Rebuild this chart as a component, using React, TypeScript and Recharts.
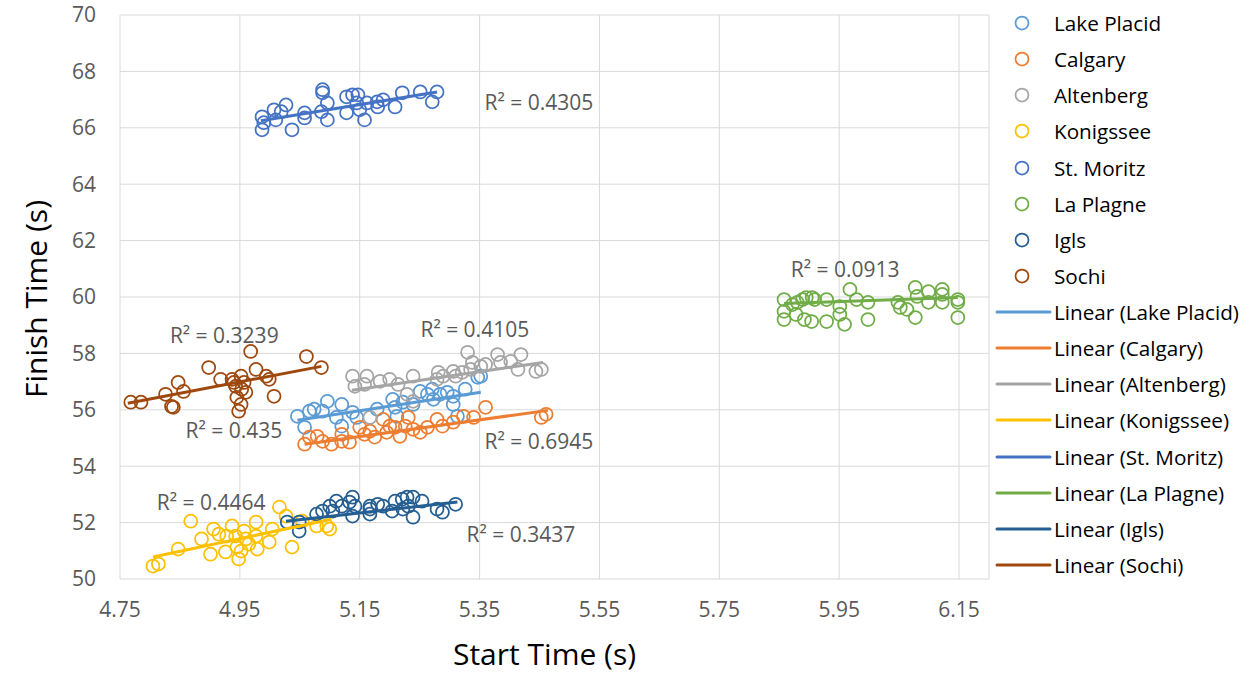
import { ScatterChart, Scatter, XAxis, YAxis, CartesianGrid, ReferenceDot } from "recharts";

const FONT = '"Open Sans", "Noto Sans", sans-serif';

const seriesNames = ["Lake Placid", "Calgary", "Altenberg", "Konigssee", "St. Moritz", "La Plagne", "Igls", "Sochi"];
const seriesColors = ["#5B9BD5", "#ED7D31", "#A5A5A5", "#FFC000", "#4472C4", "#70AD47", "#255E91", "#9E480E"];

const xTicks = [4.75, 4.95, 5.15, 5.35, 5.55, 5.75, 5.95, 6.15];
const yTicks = [50, 52, 54, 56, 58, 60, 62, 64, 66, 68, 70];

// start / finish times per track
const lakePlacidStart = [5.046, 5.058, 5.066, 5.074, 5.088, 5.096, 5.111, 5.12, 5.138, 5.145, 5.12, 5.179, 5.205, 5.212, 5.209, 5.222, 5.239, 5.251, 5.263, 5.271, 5.273, 5.284, 5.296, 5.306, 5.306, 5.313, 5.326, 5.347, 5.352];
const lakePlacidFinish = [55.77, 55.38, 55.95, 56.02, 55.95, 56.3, 55.73, 56.19, 55.91, 55.73, 55.42, 56.02, 56.37, 55.77, 56.09, 56.27, 56.19, 56.65, 56.55, 56.73, 56.37, 56.55, 56.62, 56.48, 56.19, 55.77, 56.73, 57.15, 57.19];

const calgaryStart = [5.058, 5.066, 5.079, 5.088, 5.103, 5.12, 5.12, 5.133, 5.15, 5.158, 5.167, 5.175, 5.189, 5.195, 5.2, 5.209, 5.217, 5.226, 5.231, 5.239, 5.251, 5.263, 5.279, 5.288, 5.306, 5.323, 5.34, 5.36, 5.453, 5.461];
const calgaryFinish = [54.78, 55.03, 55.06, 54.88, 54.78, 55.13, 54.88, 54.85, 55.38, 55.13, 55.24, 55.03, 55.66, 55.2, 55.42, 55.38, 55.06, 55.42, 55.73, 55.31, 55.2, 55.38, 55.66, 55.42, 55.56, 55.77, 55.73, 56.09, 55.73, 55.84];

const altenbergStart = [5.138, 5.142, 5.162, 5.158, 5.167, 5.184, 5.2, 5.214, 5.239, 5.239, 5.281, 5.279, 5.289, 5.306, 5.31, 5.321, 5.33, 5.338, 5.335, 5.352, 5.36, 5.38, 5.385, 5.402, 5.414, 5.419, 5.444, 5.453, 5.229];
const altenbergFinish = [57.19, 56.83, 57.19, 56.9, 55.73, 57.01, 57.08, 56.9, 57.19, 56.3, 57.33, 57.08, 57.19, 57.36, 57.19, 57.33, 58.04, 57.68, 57.43, 57.54, 57.61, 57.96, 57.68, 57.72, 57.43, 57.96, 57.36, 57.43, 56.55];

const konigsseeStart = [4.805, 4.814, 4.847, 4.868, 4.886, 4.901, 4.906, 4.915, 4.926, 4.928, 4.937, 4.943, 4.945, 4.948, 4.952, 4.957, 4.96, 4.965, 4.977, 4.977, 4.979, 4.999, 5.004, 5.016, 5.027, 5.037, 5.054, 5.078, 5.095, 5.1];
const konigsseeFinish = [50.46, 50.53, 51.06, 52.05, 51.42, 50.88, 51.77, 51.59, 50.96, 51.52, 51.88, 51.52, 51.13, 50.71, 50.99, 51.7, 51.42, 51.24, 52.02, 51.52, 51.06, 51.31, 51.77, 52.55, 52.23, 51.13, 52.05, 51.88, 51.88, 51.77];

const stMoritzStart = [4.987, 4.987, 4.99, 5.007, 5.01, 5.027, 5.019, 5.037, 5.058, 5.058, 5.088, 5.088, 5.096, 5.096, 5.086, 5.128, 5.128, 5.138, 5.147, 5.145, 5.15, 5.158, 5.162, 5.179, 5.18, 5.189, 5.209, 5.221, 5.251, 5.271, 5.279];
const stMoritzFinish = [66.39, 65.93, 66.18, 66.64, 66.28, 66.81, 66.57, 65.93, 66.53, 66.35, 67.35, 67.24, 66.88, 66.28, 66.57, 67.1, 66.53, 67.17, 67.17, 66.88, 66.64, 66.28, 66.88, 66.92, 66.74, 66.99, 66.74, 67.24, 67.27, 66.92, 67.27];

const laPlagneStart = [5.858, 5.858, 5.858, 5.872, 5.88, 5.889, 5.895, 5.905, 5.909, 5.878, 5.892, 5.904, 5.929, 5.929, 5.951, 5.951, 5.959, 5.968, 5.979, 5.998, 5.998, 6.048, 6.052, 6.063, 6.077, 6.08, 6.077, 6.099, 6.099, 6.122, 6.122, 6.122, 6.148, 6.148, 6.148];
const laPlagneFinish = [59.91, 59.49, 59.2, 59.73, 59.81, 59.91, 59.98, 59.98, 59.91, 59.38, 59.2, 59.13, 59.91, 59.13, 59.66, 59.38, 59.03, 60.27, 59.91, 59.81, 59.2, 59.81, 59.63, 59.56, 60.34, 60.02, 59.27, 60.19, 59.81, 60.27, 60.09, 59.81, 59.91, 59.81, 59.27];

const iglsStart = [5.029, 5.049, 5.049, 5.078, 5.088, 5.1, 5.105, 5.111, 5.12, 5.133, 5.138, 5.138, 5.142, 5.167, 5.167, 5.167, 5.18, 5.189, 5.204, 5.209, 5.221, 5.222, 5.229, 5.231, 5.239, 5.239, 5.254, 5.279, 5.288, 5.31];
const iglsFinish = [52.02, 52.02, 51.7, 52.3, 52.41, 52.58, 52.41, 52.76, 52.58, 52.73, 52.9, 52.23, 52.58, 52.58, 52.3, 52.48, 52.65, 52.58, 52.41, 52.76, 52.83, 52.48, 52.9, 52.58, 52.9, 52.19, 52.76, 52.48, 52.37, 52.65];

const sochiStart = [4.768, 4.785, 4.826, 4.836, 4.839, 4.847, 4.856, 4.898, 4.918, 4.937, 4.94, 4.943, 4.945, 4.948, 4.952, 4.952, 4.953, 4.957, 4.96, 4.968, 4.977, 4.994, 4.999, 5.007, 5.061, 5.086];
const sochiFinish = [56.27, 56.27, 56.55, 56.12, 56.09, 56.97, 56.65, 57.5, 57.08, 57.08, 56.97, 56.83, 56.44, 55.95, 57.19, 56.19, 56.73, 56.97, 56.62, 58.07, 57.43, 57.19, 57.08, 56.48, 57.89, 57.5];

// linear trendline ends: [start, end]
const trendStart = [[5.046, 5.352], [5.058, 5.464], [5.137, 5.456], [4.805, 5.103], [4.985, 5.279], [5.858, 6.148], [5.027, 5.313], [4.763, 5.086]];
const trendFinish = [[55.63, 56.62], [54.78, 55.98], [56.69, 57.68], [50.78, 52.12], [66.25, 67.27], [59.77, 59.98], [52.05, 52.73], [56.23, 57.54]];

const r2Values = ["0.435", "0.6945", "0.4105", "0.4464", "0.4305", "0.0913", "0.3437", "0.3239"];
// where each R² label sits (chart units)
const r2Anchors = [[4.94, 55.25], [5.449, 54.86], [5.342, 58.83], [4.902, 52.7], [5.449, 66.91], [5.96, 60.99], [5.419, 51.56], [4.924, 58.65]];

const startArrays = [lakePlacidStart, calgaryStart, altenbergStart, konigsseeStart, stMoritzStart, laPlagneStart, iglsStart, sochiStart];
const finishArrays = [lakePlacidFinish, calgaryFinish, altenbergFinish, konigsseeFinish, stMoritzFinish, laPlagneFinish, iglsFinish, sochiFinish];

const series = seriesNames.map((name, i) => ({
  name,
  color: seriesColors[i],
  points: startArrays[i].map((x, j) => ({ x, y: finishArrays[i][j] })),
  trend: trendStart[i].map((x, j) => ({ x, y: trendFinish[i][j] })),
}));

const XTitle = ({ viewBox }: any) => (
  <text x={viewBox.x + viewBox.width / 2 - 10} y={665} textAnchor="middle" fontFamily={FONT} fontSize={30} fill="#000">
    Start Time (s)
  </text>
);

const YTitle = ({ viewBox }: any) => {
  const cx = viewBox.x + 35;
  const cy = viewBox.y + viewBox.height / 2 + 2;
  return (
    <text x={cx} y={cy} transform={`rotate(-90, ${cx}, ${cy})`} textAnchor="middle" dominantBaseline="central" fontFamily={FONT} fontSize={30} fill="#000">
      Finish Time (s)
    </text>
  );
};

function Legend() {
  const items = [
    ...series.map((s) => ({ label: s.name, color: s.color, kind: "marker" })),
    ...series.map((s) => ({ label: `Linear (${s.name})`, color: s.color, kind: "line" })),
  ];
  return (
    <div style={{ position: "absolute", left: 995, top: 5, fontFamily: FONT, fontSize: 20.7, color: "#000" }}>
      {items.map((it) => (
        <div key={it.label} style={{ height: 36.13, display: "flex", alignItems: "center" }}>
          <svg width={59} height={20} style={{ flex: "none" }}>
            {it.kind === "marker" ? (
              <circle cx={27} cy={10} r={6.5} fill="none" stroke={it.color} strokeWidth={1.75} />
            ) : (
              <line x1={2} y1={10} x2={55} y2={10} stroke={it.color} strokeWidth={3} strokeLinecap="round" />
            )}
          </svg>
          <span style={{ whiteSpace: "nowrap" }}>{it.label}</span>
        </div>
      ))}
    </div>
  );
}

export default function App() {
  return (
    <div style={{ position: "absolute", left: 0, top: 0, width: 1252, height: 677, background: "#fff" }}>
      <ScatterChart width={1252} height={677} margin={{ top: 15, right: 263, bottom: 0, left: 0 }}>
        <CartesianGrid stroke="#D9D9D9" strokeWidth={1} />
        <XAxis
          type="number"
          dataKey="x"
          domain={[4.75, 6.2]}
          ticks={xTicks}
          interval={0}
          tickFormatter={(v: number) => v.toFixed(2)}
          axisLine={false}
          tickLine={false}
          tickMargin={17}
          height={98}
          tick={{ fill: "#595959", fontSize: 21, fontFamily: FONT }}
          label={{ content: XTitle }}
        />
        <YAxis
          type="number"
          dataKey="y"
          domain={[50, 70]}
          ticks={yTicks}
          interval={0}
          axisLine={false}
          tickLine={false}
          tickMargin={18}
          width={120}
          tick={{ fill: "#595959", fontSize: 21, fontFamily: FONT }}
          label={{ content: YTitle }}
        />
        {series.map((s) => (
          <Scatter
            key={s.name}
            name={s.name}
            data={s.points}
            isAnimationActive={false}
            shape={(p: any) => <circle cx={p.cx} cy={p.cy} r={6.5} fill="none" stroke={s.color} strokeWidth={1.75} />}
          />
        ))}
        {series.map((s) => (
          <Scatter
            key={`trend-${s.name}`}
            name={`Linear (${s.name})`}
            data={s.trend}
            isAnimationActive={false}
            line={{ stroke: s.color, strokeWidth: 3 }}
            shape={() => <g />}
          />
        ))}
        {r2Anchors.map(([x, y], i) => (
          <ReferenceDot
            key={`r2-${i}`}
            x={x}
            y={y}
            r={1}
            fill="none"
            stroke="none"
            label={{ value: `R² = ${r2Values[i]}`, position: "center", fill: "#595959", fontSize: 21, fontFamily: FONT }}
          />
        ))}
      </ScatterChart>
      <Legend />
    </div>
  );
}
